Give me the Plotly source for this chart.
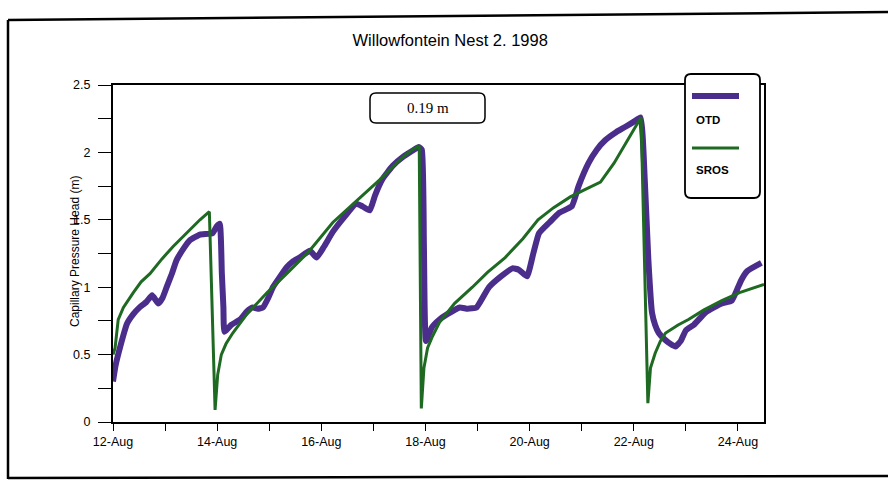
"""
Willowfontein Nest 2, 1998 - OTD vs SROS capillary pressure head
"""

import plotly.graph_objects as go
import pandas as pd

# ---- data (day of August 1998, value in m) ----
otd_day = [12.00, 12.05, 12.14, 12.27, 12.39, 12.51, 12.64, 12.75, 12.87, 12.95,
           13.03, 13.13, 13.22, 13.36, 13.48, 13.67, 13.91, 13.99, 14.05, 14.09,
           14.12, 14.14, 14.27, 14.44, 14.57, 14.68, 14.78, 14.88, 14.98, 15.07,
           15.21, 15.34, 15.45, 15.58, 15.78, 15.91, 16.05, 16.22, 16.44, 16.67,
           16.79, 16.93, 17.03, 17.17, 17.37, 17.58, 17.78, 17.87, 17.93, 17.97,
           18.01, 18.12, 18.27, 18.42, 18.66, 18.81, 18.98, 19.11, 19.22, 19.45,
           19.67, 19.79, 19.95, 20.07, 20.18, 20.38, 20.56, 20.81, 20.94, 21.13,
           21.29, 21.45, 21.66, 21.84, 22.01, 22.13, 22.21, 22.28, 22.35, 22.41,
           22.48, 22.60, 22.70, 22.80, 22.90, 23.00, 23.15, 23.37, 23.54, 23.69,
           23.88, 23.98, 24.06, 24.18, 24.45]
otd_val = [0.30, 0.42, 0.56, 0.73, 0.80, 0.85, 0.89, 0.94, 0.88, 0.92,
           1.00, 1.10, 1.20, 1.29, 1.35, 1.39, 1.40, 1.45, 1.47, 1.10,
           0.85, 0.67, 0.72, 0.76, 0.82, 0.85, 0.84, 0.85, 0.92, 1.00,
           1.08, 1.15, 1.19, 1.22, 1.27, 1.22, 1.30, 1.41, 1.52, 1.62,
           1.60, 1.57, 1.68, 1.80, 1.90, 1.97, 2.02, 2.04, 2.02, 1.30,
           0.60, 0.70, 0.76, 0.80, 0.85, 0.84, 0.85, 0.93, 1.00, 1.08,
           1.14, 1.13, 1.08, 1.25, 1.40, 1.48, 1.55, 1.60, 1.75, 1.92,
           2.02, 2.09, 2.15, 2.19, 2.23, 2.26, 1.80, 1.20, 0.81, 0.72,
           0.66, 0.61, 0.58, 0.56, 0.60, 0.68, 0.72, 0.81, 0.85, 0.88,
           0.90, 0.98, 1.05, 1.12, 1.18]

sros_day = [12.00, 12.04, 12.10, 12.20, 12.39, 12.54, 12.71, 12.94, 13.15, 13.43,
            13.67, 13.85, 13.91, 13.96, 14.01, 14.08, 14.17, 14.30, 14.57, 14.96,
            15.36, 15.75, 16.22, 16.74, 17.13, 17.49, 17.71, 17.88, 17.92, 17.97,
            18.04, 18.14, 18.27, 18.56, 18.90, 19.19, 19.53, 19.87, 20.16, 20.46,
            20.78, 21.04, 21.36, 21.62, 21.89, 22.14, 22.27, 22.32, 22.41, 22.51,
            22.61, 22.85, 23.05, 23.34, 23.69, 24.03, 24.50]
sros_val = [0.50, 0.55, 0.76, 0.85, 0.96, 1.04, 1.10, 1.21, 1.30, 1.41,
            1.50, 1.56, 0.80, 0.09, 0.35, 0.50, 0.58, 0.66, 0.80, 0.96,
            1.11, 1.26, 1.48, 1.66, 1.80, 1.94, 2.01, 2.05, 0.10, 0.40,
            0.55, 0.64, 0.74, 0.88, 1.00, 1.11, 1.22, 1.36, 1.50, 1.59,
            1.67, 1.72, 1.78, 1.92, 2.10, 2.26, 0.14, 0.40, 0.51, 0.60,
            0.66, 0.72, 0.76, 0.83, 0.90, 0.96, 1.02]

title_text = "Willowfontein Nest 2. 1998"
y_title = "Capillary Pressure Head (m)"
note_text = "0.19 m"
series_names = ["OTD", "SROS"]

OTD_COLOR = "#4b2d8c"
SROS_COLOR = "#1f6a22"
FONT = "Liberation Sans, Arial, sans-serif"

base = pd.Timestamp("1998-08-01")


def to_date(days):
    return [base + pd.to_timedelta(d - 1, unit="D") for d in days]


# plot area in pixels (figure is 888 x 492)
L, R, T, B = 113, 764, 85, 422


def px_x(x):
    return (x - L) / (R - L)


def px_y(y):
    return (B - y) / (B - T)


def rounded_box(x0, y0, x1, y1, r):
    # rounded rectangle given in pixels, returned as a paper-space path
    rx = r / (R - L)
    ry = r / (B - T)
    a, b, c, d = px_x(x0), px_x(x1), px_y(y0), px_y(y1)  # c top, d bottom
    return (f"M {a + rx},{c} L {b - rx},{c} Q {b},{c} {b},{c - ry} "
            f"L {b},{d + ry} Q {b},{d} {b - rx},{d} L {a + rx},{d} "
            f"Q {a},{d} {a},{d + ry} L {a},{c - ry} Q {a},{c} {a + rx},{c} Z")


def px_line(x0, y0, x1, y1, color="black", width=2.5):
    return dict(type="line", xref="paper", yref="paper",
                x0=px_x(x0), x1=px_x(x1), y0=px_y(y0), y1=px_y(y1),
                line=dict(color=color, width=width))


fig = go.Figure()
fig.add_trace(go.Scatter(x=to_date(otd_day), y=otd_val, mode="lines",
                         name=series_names[0],
                         line=dict(color=OTD_COLOR, width=6,
                                   shape="spline", smoothing=0.4)))
fig.add_trace(go.Scatter(x=to_date(sros_day), y=sros_val, mode="lines",
                         name=series_names[1],
                         line=dict(color=SROS_COLOR, width=3)))

day_ms = 86400000
x_range = ["1998-08-12", "1998-08-24 12:00"]

fig.update_layout(
    width=888, height=492,
    margin=dict(l=L, r=888 - R, t=T, b=492 - B),
    paper_bgcolor="white", plot_bgcolor="white",
    showlegend=False,
    font=dict(family=FONT, size=11, color="black"),
    title=dict(text=title_text, x=0.507, xanchor="center", y=1 - 40 / 492,
               yanchor="middle", font=dict(family=FONT, size=16.5, color="black")),
    xaxis=dict(type="date", range=x_range, tick0="1998-08-12", dtick=2 * day_ms,
               tickformat="%d-%b", ticks="outside", ticklen=7, tickwidth=1.2,
               tickcolor="black", showline=True, linecolor="black", linewidth=2,
               mirror=True, showgrid=False, zeroline=False,
               tickfont=dict(family=FONT, size=12.5),
               minor=dict(dtick=day_ms, ticks="outside", ticklen=7,
                          tickcolor="black", showgrid=False)),
    xaxis2=dict(type="date", range=x_range, overlaying="x", anchor="y",
                tick0="1998-08-12", dtick=day_ms, ticks="inside", ticklen=6,
                tickcolor="black", showticklabels=False, showgrid=False,
                showline=False, zeroline=False),
    yaxis=dict(range=[0, 2.5], dtick=0.5, ticks="outside", ticklen=13,
               tickwidth=1.2, tickcolor="black", showline=True,
               linecolor="black", linewidth=2, mirror=True, showgrid=False,
               zeroline=False, tickfont=dict(family=FONT, size=12.5),
               ticklabelstandoff=5,
               minor=dict(dtick=0.25, ticks="outside", ticklen=13,
                          tickcolor="black", showgrid=False)),
    yaxis2=dict(range=[0, 2.5], overlaying="y", anchor="x", dtick=0.25,
                ticks="inside", ticklen=7, tickcolor="black",
                showticklabels=False, showgrid=False, showline=False,
                zeroline=False),
)

shapes = [
    # outer frame of the figure
    px_line(8, 20, 888, 12),
    px_line(8, 20, 8, 479),
    px_line(8, 478, 888, 476),
    # note box
    dict(type="path", xref="paper", yref="paper",
         path=rounded_box(370, 93, 485, 123, 6),
         line=dict(color="black", width=1.5), fillcolor="white"),
    # legend box
    dict(type="path", xref="paper", yref="paper",
         path=rounded_box(685, 74, 760, 198, 6),
         line=dict(color="black", width=1.8), fillcolor="white"),
    px_line(692, 96, 739, 96, OTD_COLOR, 6),
    px_line(692, 148, 739, 148, SROS_COLOR, 3),
]
fig.update_layout(shapes=shapes)

fig.add_annotation(x=px_x(75), y=px_y(252), xref="paper", yref="paper",
                   text=y_title, textangle=-90, showarrow=False,
                   xanchor="center", yanchor="middle",
                   font=dict(family=FONT, size=12))
fig.add_annotation(x=px_x(428), y=px_y(108), xref="paper", yref="paper",
                   text=note_text, showarrow=False,
                   xanchor="center", yanchor="middle",
                   font=dict(family="Liberation Serif, Times New Roman, serif",
                             size=15, color="black"))
fig.add_annotation(x=px_x(694), y=px_y(120), xref="paper", yref="paper",
                   text="<b>" + series_names[0] + "</b>", showarrow=False,
                   xanchor="left", yanchor="middle",
                   font=dict(family=FONT, size=11.5))
fig.add_annotation(x=px_x(694), y=px_y(170), xref="paper", yref="paper",
                   text="<b>" + series_names[1] + "</b>", showarrow=False,
                   xanchor="left", yanchor="middle",
                   font=dict(family=FONT, size=11.5))

fig.write_html("out.html", config={"displayModeBar": False},
               post_script="document.body.style.margin='0';")
